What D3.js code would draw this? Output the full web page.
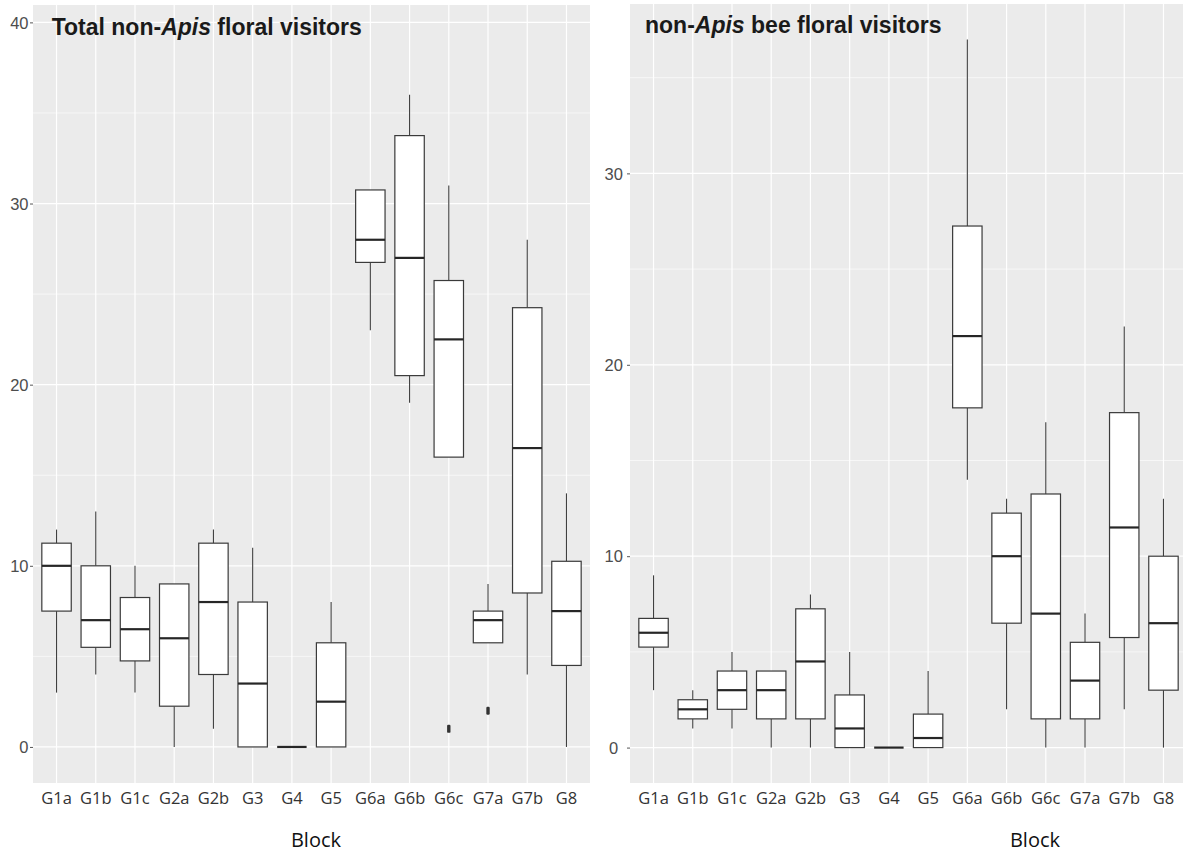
<!DOCTYPE html>
<html>
<head>
<meta charset="utf-8">
<script src="https://cdn.jsdelivr.net/npm/d3@7/dist/d3.min.js"></script>
<style>
  html, body { margin: 0; padding: 0; background: #ffffff; }
  svg { display: block; }
</style>
</head>
<body>
<svg id="chart" width="1183" height="852"></svg>
<script>
// Blocks along the x axis
const categories = ["G1a","G1b","G1c","G2a","G2b","G3","G4","G5","G6a","G6b","G6c","G7a","G7b","G8"];

// Total non-Apis floral visitors: five-number summaries per block
const totalMin    = [3, 4, 3, 0, 1, 0, 0, 0, 23, 19, 16, 5.75, 4, 0];
const totalQ1     = [7.5, 5.5, 4.75, 2.25, 4, 0, 0, 0, 26.75, 20.5, 16, 5.75, 8.5, 4.5];
const totalMedian = [10, 7, 6.5, 6, 8, 3.5, 0, 2.5, 28, 27, 22.5, 7, 16.5, 7.5];
const totalQ3     = [11.25, 10, 8.25, 9, 11.25, 8, 0, 5.75, 30.75, 33.75, 25.75, 7.5, 24.25, 10.25];
const totalMax    = [12, 13, 10, 9, 12, 11, 0, 8, 30.75, 36, 31, 9, 28, 14];
const totalOutlierBlock = ["G6c", "G7a"];
const totalOutlierValue = [1, 2];
const totalTicks = [0, 10, 20, 30, 40];

// non-Apis bee floral visitors: five-number summaries per block
const beeMin    = [3, 1, 1, 0, 0, 0, 0, 0, 14, 2, 0, 0, 2, 0];
const beeQ1     = [5.25, 1.5, 2, 1.5, 1.5, 0, 0, 0, 17.75, 6.5, 1.5, 1.5, 5.75, 3];
const beeMedian = [6, 2, 3, 3, 4.5, 1, 0, 0.5, 21.5, 10, 7, 3.5, 11.5, 6.5];
const beeQ3     = [6.75, 2.5, 4, 4, 7.25, 2.75, 0, 1.75, 27.25, 12.25, 13.25, 5.5, 17.5, 10];
const beeMax    = [9, 3, 5, 4, 8, 5, 0, 4, 37, 13, 17, 7, 22, 13];
const beeOutlierBlock = [];
const beeOutlierValue = [];
const beeTicks = [0, 10, 20, 30];

const svg = d3.select("#chart");

function panel(opts) {
  const x = d3.scalePoint().domain(categories).range([opts.left, opts.right]).padding(0.6);
  const y = d3.scaleLinear().domain(opts.domain).range([opts.bottom, opts.top]);
  const step = x.step();
  const bw = step * 0.75;

  const g = svg.append("g");

  // panel background
  g.append("rect")
    .attr("x", opts.left).attr("y", opts.top)
    .attr("width", opts.right - opts.left).attr("height", opts.bottom - opts.top)
    .attr("fill", "#EBEBEB");

  // minor horizontal grid
  const minor = d3.range(opts.ticks.length - 1).map(i => (opts.ticks[i] + opts.ticks[i + 1]) / 2);
  if (opts.extraMinor) minor.push(opts.extraMinor);
  g.selectAll(".minor").data(minor).join("line")
    .attr("x1", opts.left).attr("x2", opts.right)
    .attr("y1", d => y(d)).attr("y2", d => y(d))
    .attr("stroke", "#ffffff").attr("stroke-width", 0.6);

  // major horizontal grid
  g.selectAll(".majorH").data(opts.ticks).join("line")
    .attr("x1", opts.left).attr("x2", opts.right)
    .attr("y1", d => y(d)).attr("y2", d => y(d))
    .attr("stroke", "#ffffff").attr("stroke-width", 1.2);

  // major vertical grid
  g.selectAll(".majorV").data(categories).join("line")
    .attr("x1", d => x(d)).attr("x2", d => x(d))
    .attr("y1", opts.top).attr("y2", opts.bottom)
    .attr("stroke", "#ffffff").attr("stroke-width", 1.2);

  const rows = categories.map((c, i) => ({
    c, lo: opts.min[i], q1: opts.q1[i], med: opts.med[i], q3: opts.q3[i], hi: opts.max[i]
  }));

  const box = g.selectAll(".box").data(rows).join("g");

  // whiskers
  box.append("line")
    .attr("x1", d => x(d.c)).attr("x2", d => x(d.c))
    .attr("y1", d => y(d.q3)).attr("y2", d => y(d.hi))
    .attr("stroke", "#404040").attr("stroke-width", 1.1);
  box.append("line")
    .attr("x1", d => x(d.c)).attr("x2", d => x(d.c))
    .attr("y1", d => y(d.q1)).attr("y2", d => y(d.lo))
    .attr("stroke", "#404040").attr("stroke-width", 1.1);

  // boxes
  box.append("rect")
    .attr("x", d => x(d.c) - bw / 2).attr("width", bw)
    .attr("y", d => y(d.q3)).attr("height", d => Math.max(0, y(d.q1) - y(d.q3)))
    .attr("fill", "#ffffff").attr("stroke", "#3a3a3a").attr("stroke-width", 1.2);

  // medians
  box.append("line")
    .attr("x1", d => x(d.c) - bw / 2).attr("x2", d => x(d.c) + bw / 2)
    .attr("y1", d => y(d.med)).attr("y2", d => y(d.med))
    .attr("stroke", "#262626").attr("stroke-width", 2.2);

  // outliers
  g.selectAll(".out").data(opts.outBlock.map((b, i) => ({ b, v: opts.outValue[i] }))).join("rect")
    .attr("x", d => x(d.b) - 1.7).attr("y", d => y(d.v) - 4)
    .attr("width", 3.4).attr("height", 8).attr("rx", 1.2)
    .attr("fill", "#333333");

  // y axis ticks and labels
  const axis = d3.axisLeft(y).tickValues(opts.ticks).tickSize(3).tickPadding(1.5).tickFormat(d3.format("d"));
  const ag = svg.append("g").attr("transform", `translate(${opts.left},0)`).call(axis);
  ag.select(".domain").remove();
  ag.selectAll(".tick line").attr("stroke", "#555555").attr("stroke-width", 1);
  ag.selectAll(".tick text")
    .attr("fill", "#4D4D4D")
    .style("font-family", "'Liberation Sans', Arial, sans-serif")
    .style("font-size", "16.5px")
    .attr("dy", "0.34em");
  if (opts.centerLabels) {
    ag.selectAll(".tick text").attr("text-anchor", "middle").attr("x", opts.centerLabels);
  }

  // x tick labels
  svg.append("g").selectAll("text").data(categories).join("text")
    .attr("x", d => x(d)).attr("y", 804)
    .attr("text-anchor", "middle")
    .attr("fill", "#333333")
    .style("font-family", "'Open Sans', 'Noto Sans', sans-serif")
    .style("font-size", "16.5px")
    .text(d => d);

  // x axis title
  svg.append("text")
    .attr("x", opts.blockX).attr("y", 847)
    .attr("text-anchor", "middle")
    .attr("fill", "#111111")
    .style("font-family", "'Open Sans', 'Noto Sans', sans-serif")
    .style("font-size", "20px")
    .text("Block");

  // panel heading
  const t = svg.append("text")
    .attr("x", opts.titleX).attr("y", opts.titleY)
    .attr("fill", "#1a1a1a")
    .style("font-family", "'Liberation Sans', Arial, sans-serif")
    .style("font-size", "23px")
    .style("font-weight", "bold");
  opts.title.forEach(part => {
    t.append("tspan").style("font-style", part.italic ? "italic" : "normal").text(part.text);
  });
}

panel({
  left: 33, right: 590, top: 5, bottom: 783,
  domain: [-1.99, 40.96],
  ticks: totalTicks,
  min: totalMin, q1: totalQ1, med: totalMedian, q3: totalQ3, max: totalMax,
  outBlock: totalOutlierBlock, outValue: totalOutlierValue,
  blockX: 316,
  titleX: 51.7, titleY: 34.5,
  title: [{ text: "Total non-" }, { text: "Apis", italic: true }, { text: " floral visitors" }]
});

panel({
  left: 630, right: 1187, top: 4, bottom: 783,
  domain: [-1.85, 38.85],
  ticks: beeTicks, extraMinor: 35,
  min: beeMin, q1: beeQ1, med: beeMedian, q3: beeQ3, max: beeMax,
  outBlock: beeOutlierBlock, outValue: beeOutlierValue,
  centerLabels: -16.3,
  blockX: 1035,
  titleX: 645, titleY: 32.7,
  title: [{ text: "non-" }, { text: "Apis", italic: true }, { text: " bee floral visitors" }]
});
</script>
</body>
</html>
